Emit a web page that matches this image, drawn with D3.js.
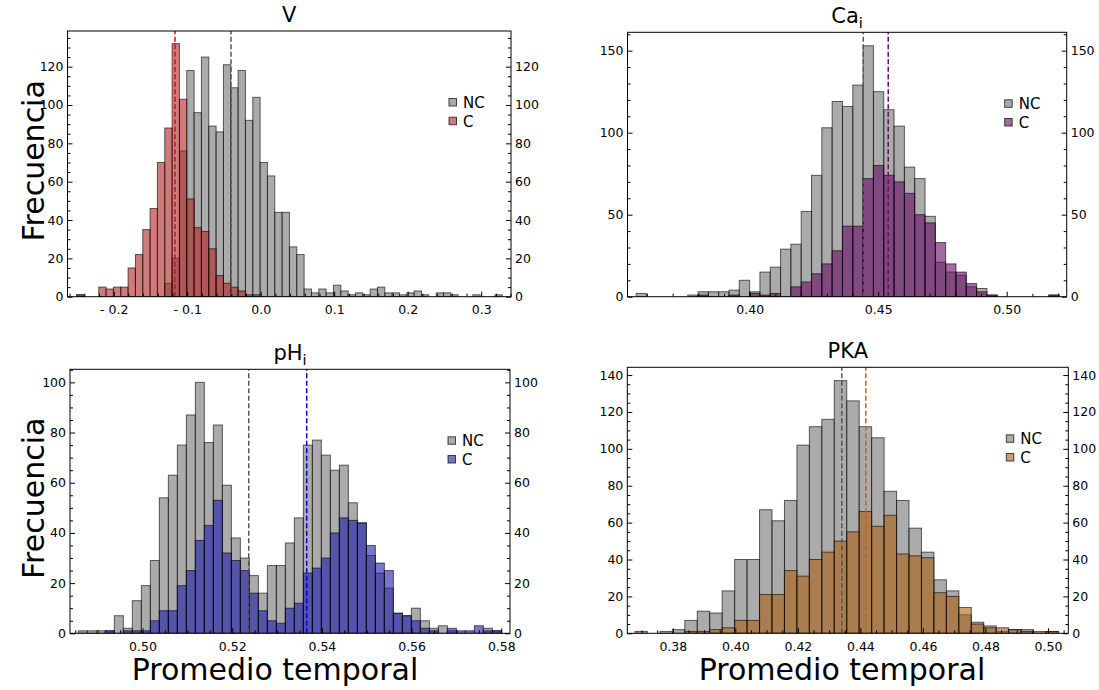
<!DOCTYPE html>
<html><head><meta charset="utf-8">
<script src="https://cdn.jsdelivr.net/npm/d3@7"></script>
<style>
body{margin:0;background:#fff}
svg{display:block}
text{font-family:"DejaVu Sans",sans-serif;fill:#000}
</style>
</head><body>
<svg id="c" width="1099" height="690"></svg>
<script>
// ================= DATA =================
const seriesNames = ["NC", "C"];
const yAxisLabel = "Frecuencia";
const xAxisLabel = "Promedio temporal";

// --- Panel V ---
const vBinStart = -0.2503, vBinWidth = 0.00998;
const vNC = [1,0,0,0,0,0,0,0,0,0,0,0,7,20,76,118,96,125,89,86,121,109,118,92,104,70,63,44,44,26,22,4,2,4,2,6,3,1,2,1,4,5,2,2,1,2,3,1,0,2,2,1,0,0,1,0,0,1];
const vC  = [1,0,0,5,4,5,5,15,22,35,46,70,88,132,103,51,36,34,25,11,7,5,3,1,1,0,0,0,0,0,0,0,0,0,0,0,0,0,0,0,0,0,0,0,0,0,0,0,0,0,0,0,0,0,0,0,0,0];
const vMeans = [-0.0404, -0.1166];
const vXTicks = [-0.2,-0.1,0,0.1,0.2,0.3];
const vXTickLabels = ["- 0.2","- 0.1","0.0","0.1","0.2","0.3"];
const vYTicks = [0,20,40,60,80,100,120];

// --- Panel Ca_i ---
const caBinStart = 0.3558, caBinWidth = 0.004015;
const caNC = [2,0,0,0,0,1,3,3,3,4,10,3,15,18,29,32,52,74,103,119,116,129,153,125,114,104,79,72,49,21,15,13,6,5,1,0,0,0,0,0,1];
const caC  = [0,0,0,0,0,0,1,0,0,1,0,2,1,2,0,6,9,14,20,28,43,43,72,80,74,70,63,50,45,33,20,15,8,3,1,0,0,0,0,0,1];
const caMeans = [0.4442, 0.4539];
const caXTicks = [0.40,0.45,0.50];
const caXTickLabels = ["0.40","0.45","0.50"];
const caYTicks = [0,50,100,150];

// --- Panel pH_i ---
const phBinStart = 0.48569, phBinWidth = 0.002007;
const phNC = [1,1,1,1,7,2,13,19,29,54,63,75,87,100,76,83,59,38,30,23,16,27,27,36,46,75,77,71,65,67,52,44,31,24,18,8,7,10,5,2,3,1,0,0,0,2,1];
const phC  = [0,0,0,1,0,1,1,1,5,9,9,19,25,37,43,53,32,29,25,16,9,5,4,10,12,24,26,30,40,46,45,44,35,28,25,8,7,5,2,1,0,2,1,1,3,1,1];
const phMeans = [0.52368, 0.53661];
const phXTicks = [0.50,0.52,0.54,0.56,0.58];
const phXTickLabels = ["0.50","0.52","0.54","0.56","0.58"];
const phYTicks = [0,20,40,60,80,100];

// --- Panel PKA ---
const pkaBinStart = 0.3679, pkaBinWidth = 0.003984;
const pkaNC = [0,0,1,2,7,12,11,23,40,40,67,61,72,102,112,116,137,126,112,106,77,72,57,44,29,23,10,6,4,1,2,2,0,1];
const pkaC  = [1,0,0,0,1,1,2,3,7,7,21,21,34,31,40,44,50,55,66,58,64,43,42,41,22,20,14,5,3,3,2,1,1,1];
const pkaMeans = [0.43405, 0.44173];
const pkaXTicks = [0.38,0.40,0.42,0.44,0.46,0.48,0.50];
const pkaXTickLabels = ["0.38","0.40","0.42","0.44","0.46","0.48","0.50"];
const pkaYTicks = [0,20,40,60,80,100,120,140];

// ================= DRAWING =================
const NC_COLOR = "#808080";
const svg = d3.select("#c");

const panels = [
  {id:"v", title:["V",""], box:{l:67.5,r:511,t:31,b:296.7}, xDomain:[-0.26286,0.34054], yMax:138.6,
   binStart:vBinStart, binWidth:vBinWidth, nc:vNC, c:vC, means:vMeans,
   xTicks:vXTicks, xLabels:vXTickLabels, yTicks:vYTicks, xMinor:0.02, yMinor:5,
   color:"#b22222", meanColor:"#cc1111", ylab:true, xlab:false},
  {id:"ca", title:["Ca","i"], box:{l:627.5,r:1066.7,t:32.3,b:296.7}, xDomain:[0.35245,0.52335], yMax:161.2,
   binStart:caBinStart, binWidth:caBinWidth, nc:caNC, c:caC, means:caMeans,
   xTicks:caXTicks, xLabels:caXTickLabels, yTicks:caYTicks, xMinor:0.01, yMinor:10,
   color:"#640a64", meanColor:"#6a0a6a", ylab:false, xlab:false},
  {id:"ph", title:["pH","i"], box:{l:70,r:510,t:369.3,b:633.3}, xDomain:[0.48383,0.58194], yMax:105.2,
   binStart:phBinStart, binWidth:phBinWidth, nc:phNC, c:phC, means:phMeans,
   xTicks:phXTicks, xLabels:phXTickLabels, yTicks:phYTicks, xMinor:0.005, yMinor:5,
   color:"#1b1ba8", meanColor:"#0000cc", ylab:true, xlab:true, xlabCx:275},
  {id:"pka", title:["PKA",""], box:{l:627.3,r:1068.3,t:367.3,b:633.3}, xDomain:[0.36544,0.50650], yMax:144.2,
   binStart:pkaBinStart, binWidth:pkaBinWidth, nc:pkaNC, c:pkaC, means:pkaMeans,
   xTicks:pkaXTicks, xLabels:pkaXTickLabels, yTicks:pkaYTicks, xMinor:0.005, yMinor:5,
   color:"#aa5f14", meanColor:"#c8640a", ylab:false, xlab:true, xlabCx:842}
];

function minorTicks(domain, step, majors) {
  const out = [];
  const s = Math.ceil(domain[0]/step - 1e-9), e = Math.floor(domain[1]/step + 1e-9);
  for (let k = s; k <= e; k++) {
    const v = +(k*step).toFixed(6);
    if (!majors.some(m => Math.abs(m - v) < step/10)) out.push(v);
  }
  return out;
}

function styleAxis(sel) {
  sel.attr("font-size", null).attr("font-family", null);
  sel.select(".domain").remove();
  sel.selectAll("line").attr("stroke", "#000").attr("stroke-width", 1);
  sel.selectAll("text").style("font-size", "12.5px").style("font-family", '"DejaVu Sans",sans-serif');
}

panels.forEach(cfg => {
  const b = cfg.box;
  const x = d3.scaleLinear().domain(cfg.xDomain).range([b.l, b.r]);
  const y = d3.scaleLinear().domain([0, cfg.yMax]).range([b.b, b.t]);
  const g = svg.append("g");
  const clipId = "clip-" + cfg.id;
  svg.append("clipPath").attr("id", clipId).append("rect")
    .attr("x", b.l).attr("y", b.t).attr("width", b.r - b.l).attr("height", b.b - b.t);
  const plot = g.append("g").attr("clip-path", `url(#${clipId})`);

  function hist(counts, fill, op) {
    const data = counts.map((c, i) => ({c, i})).filter(d => d.c > 0);
    plot.append("g").selectAll("rect").data(data).join("rect")
      .attr("x", d => x(cfg.binStart + d.i*cfg.binWidth))
      .attr("width", d => x(cfg.binStart + (d.i+1)*cfg.binWidth) - x(cfg.binStart + d.i*cfg.binWidth))
      .attr("y", d => y(d.c))
      .attr("height", d => y(0) - y(d.c))
      .attr("fill", fill).attr("fill-opacity", op)
      .attr("stroke", "#000").attr("stroke-opacity", 0.6).attr("stroke-width", 1);
  }
  hist(cfg.nc, NC_COLOR, 0.66);
  hist(cfg.c, cfg.color, 0.6);

  // mean lines
  [[cfg.means[0], "#555555"], [cfg.means[1], cfg.meanColor]].forEach(([m, col]) => {
    plot.append("line").attr("x1", x(m)).attr("x2", x(m)).attr("y1", b.b).attr("y2", b.t)
      .attr("stroke", col).attr("stroke-width", 1.5).attr("stroke-dasharray", "5,2.5");
  });

  // axes
  const yMinors = minorTicks([0, cfg.yMax], cfg.yMinor, cfg.yTicks);
  const xMinors = minorTicks(cfg.xDomain, cfg.xMinor, cfg.xTicks);
  const fmt = d3.format("d");
  g.append("g").attr("transform", `translate(${b.l},0)`)
    .call(d3.axisLeft(y).tickValues(cfg.yTicks).tickSize(-5).tickPadding(4).tickFormat(fmt)).call(styleAxis);
  g.append("g").attr("transform", `translate(${b.l},0)`)
    .call(d3.axisLeft(y).tickValues(yMinors).tickSize(-3).tickFormat("")).call(styleAxis);
  g.append("g").attr("transform", `translate(${b.r},0)`)
    .call(d3.axisRight(y).tickValues(cfg.yTicks).tickSize(-5).tickPadding(4).tickFormat(fmt)).call(styleAxis);
  g.append("g").attr("transform", `translate(${b.r},0)`)
    .call(d3.axisRight(y).tickValues(yMinors).tickSize(-3).tickFormat("")).call(styleAxis);
  g.append("g").attr("transform", `translate(0,${b.b})`)
    .call(d3.axisBottom(x).tickValues(cfg.xTicks).tickSize(-5).tickPadding(8.5)
      .tickFormat((d, i) => cfg.xLabels[i])).call(styleAxis);
  g.append("g").attr("transform", `translate(0,${b.b})`)
    .call(d3.axisBottom(x).tickValues(xMinors).tickSize(-3).tickFormat("")).call(styleAxis);

  // frame
  g.append("rect").attr("x", b.l).attr("y", b.t).attr("width", b.r - b.l).attr("height", b.b - b.t)
    .attr("fill", "none").attr("stroke", "#000").attr("stroke-width", 1);

  // title
  const t = g.append("text").attr("x", (b.l + b.r)/2).attr("y", b.t - 9)
    .attr("text-anchor", "middle").style("font-size", "21px");
  t.append("tspan").text(cfg.title[0]);
  if (cfg.title[1]) t.append("tspan").attr("dy", 5).style("font-size", "14.5px").text(cfg.title[1]);

  // legend
  const lx = b.r - 62, ly = b.t + 67.5;
  [[NC_COLOR, 0.66], [cfg.color, 0.6]].forEach(([col, op], k) => {
    g.append("rect").attr("x", lx).attr("y", ly + k*18.7).attr("width", 7.5).attr("height", 7.5)
      .attr("fill", col).attr("fill-opacity", op).attr("stroke", "#000").attr("stroke-opacity", 0.7).attr("stroke-width", 1);
    g.append("text").attr("x", lx + 14).attr("y", ly + k*18.7 + 9.3)
      .style("font-size", "15px").text(seriesNames[k]);
  });

  if (cfg.ylab) {
    g.append("text").attr("transform", `translate(44,${(b.t + b.b)/2 - 3}) rotate(-90)`)
      .attr("text-anchor", "middle").style("font-size", "30px").text(yAxisLabel);
  }
  if (cfg.xlab) {
    g.append("text").attr("x", cfg.xlabCx).attr("y", 680)
      .attr("text-anchor", "middle").style("font-size", "30px").text(xAxisLabel);
  }
});
</script>
</body></html>
